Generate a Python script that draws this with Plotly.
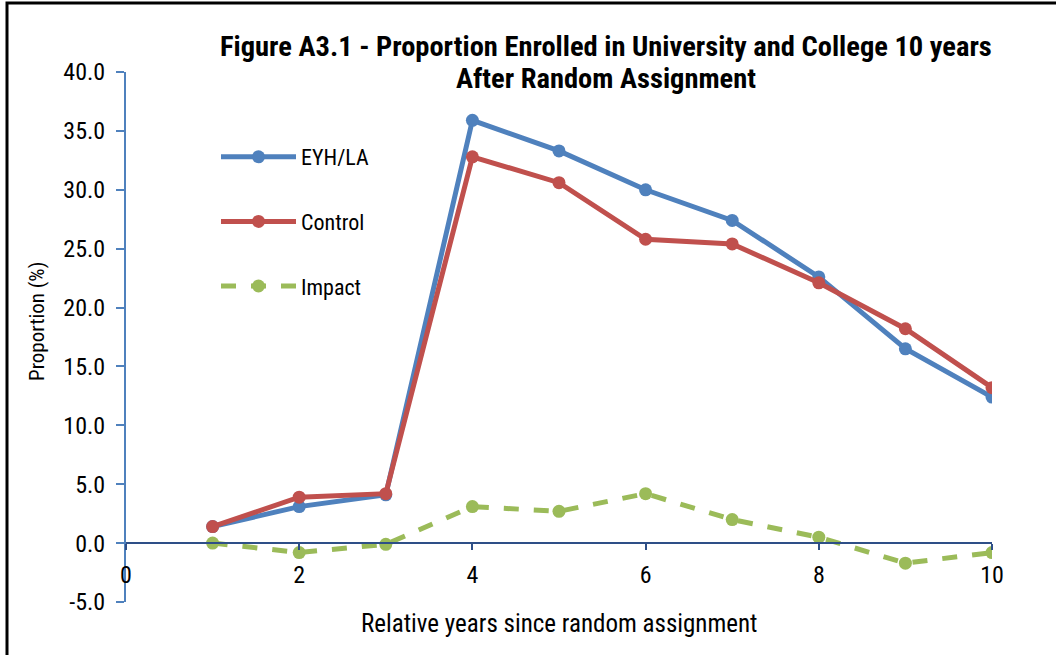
import plotly.graph_objects as go

# Years since random assignment
years = [1, 2, 3, 4, 5, 6, 7, 8, 9, 10]

# Proportion enrolled (%) by group
eyh_la = [1.4, 3.1, 4.1, 35.9, 33.3, 30.0, 27.4, 22.6, 16.5, 12.4]
control = [1.4, 3.9, 4.2, 32.8, 30.6, 25.8, 25.4, 22.1, 18.2, 13.2]
impact = [0.0, -0.8, -0.1, 3.1, 2.7, 4.2, 2.0, 0.5, -1.7, -0.8]

y_ticks = [-5, 0, 5, 10, 15, 20, 25, 30, 35, 40]
x_ticks = [0, 2, 4, 6, 8, 10]

FONT = "Liberation Sans Narrow, Arial Narrow, Roboto Condensed, sans-serif"
TITLE_1 = "Figure A3.1 - Proportion Enrolled in University and College 10 years"
TITLE_2 = "After Random Assignment"

fig = go.Figure()

series = [
    ("EYH/LA", eyh_la, "#4F81BD", "solid"),
    ("Control", control, "#C0504D", "solid"),
    ("Impact", impact, "#9BBB59", "dash"),
]
for i, (name, vals, color, dash) in enumerate(series):
    fig.add_trace(go.Scatter(
        x=years, y=vals, name=name, mode="lines+markers",
        line=dict(color=color, width=5, dash=dash),
        marker=dict(color=color, size=13),
        legendgroup=f"g{i}",
    ))

ml, mr, mt, mb = 126, 64, 72, 53
W, H = 1056, 655
pw, ph = W - ml - mr, H - mt - mb


def py(pixel_y):
    """Paper y for a pixel row measured from the top of the page."""
    return 1 - (pixel_y - mt) / ph


def px(pixel_x):
    """Paper x for a pixel column measured from the left of the page."""
    return (pixel_x - ml) / pw


fig.update_layout(
    width=W, height=H,
    margin=dict(l=ml, r=mr, t=mt, b=mb),
    paper_bgcolor="white", plot_bgcolor="white",
    font=dict(family=FONT, size=20, color="black"),
    showlegend=True,
    legend=dict(
        x=px(216), xanchor="left",
        y=py(136), yanchor="top",
        bgcolor="rgba(0,0,0,0)",
        font=dict(family=FONT, size=22),
        tracegroupgap=33,
        itemwidth=75,
    ),
    xaxis=dict(
        range=[0, 10], tickvals=x_ticks, ticktext=[str(v) for v in x_ticks],
        showgrid=False, zeroline=False,
        showline=True, linecolor="#2E4F87", linewidth=2,
        ticks="outside", ticklen=6, tickcolor="#2E4F87", tickwidth=2,
        ticklabelstandoff=4,
        anchor="free", position=5 / 45,
        tickfont=dict(family=FONT, size=24),
        title=dict(text=""),
    ),
    yaxis=dict(
        range=[-5, 40], tickvals=y_ticks, ticktext=[f"{v:.1f}" for v in y_ticks],
        showgrid=False, zeroline=False,
        showline=True, linecolor="#4F81BD", linewidth=2,
        ticks="outside", ticklen=8, tickcolor="#4F81BD", tickwidth=2,
        ticklabelstandoff=6,
        tickfont=dict(family=FONT, size=24),
        title=dict(text=""),
    ),
    annotations=[
        dict(text=f"<b>{TITLE_1}</b>", xref="paper", yref="paper",
             x=px(606), y=py(47), xanchor="center", yanchor="middle",
             showarrow=False, font=dict(family=FONT, size=28.5)),
        dict(text=f"<b>{TITLE_2}</b>", xref="paper", yref="paper",
             x=px(606), y=py(78), xanchor="center", yanchor="middle",
             showarrow=False, font=dict(family=FONT, size=28.5)),
        dict(text="Relative years since random assignment", xref="paper", yref="paper",
             x=0.5, y=py(623), xanchor="center", yanchor="middle",
             showarrow=False, font=dict(family=FONT, size=25)),
        dict(text="Proportion (%)", xref="paper", yref="paper", textangle=-90,
             x=px(37), y=py(322), xanchor="center", yanchor="middle",
             showarrow=False, font=dict(family=FONT, size=21)),
    ],
    shapes=[
        dict(type="rect", xref="paper", yref="paper",
             x0=px(7), x1=px(1070),
             y0=py(H + 10), y1=py(3),
             line=dict(color="black", width=3), fillcolor="rgba(0,0,0,0)", layer="below"),
    ],
)

fig.write_html("out.html")
